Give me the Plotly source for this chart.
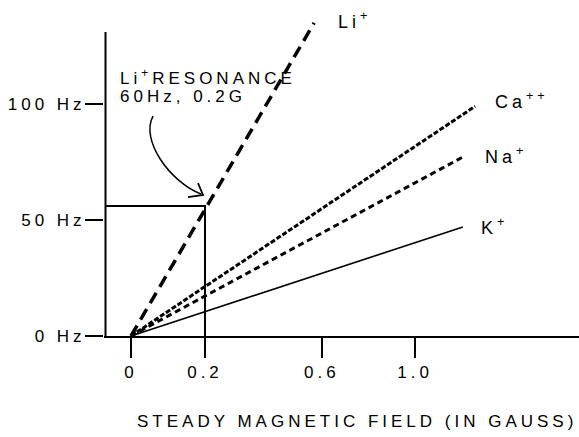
import plotly.graph_objects as go

# ---- data ----
ions = ["Li<sup>+</sup>", "Ca<sup>++</sup>", "Na<sup>+</sup>", "K<sup>+</sup>"]
end_field = [0.495, 0.930, 0.895, 0.897]      # field at the end of each drawn line (axis units)
end_freq = [135, 99, 77, 47]                  # frequency (Hz) at the end of each drawn line
x_tick_pos = [0, 0.2, 0.516, 0.768]
x_tick_text = ["0", "0.2", "0.6", "1.0"]
y_tick_vals = [0, 50, 100]
y_tick_text = ["0 Hz", "50 Hz", "100 Hz"]
res_field = 0.2
res_freq = 56
res_label = ["Li<sup>+</sup>RESONANCE", "60Hz, 0.2G"]
x_title = "STEADY MAGNETIC FIELD (IN GAUSS)"

FONT = "Liberation Sans, Arial, Helvetica, sans-serif"
styles = [
    dict(dash="12px,7px", width=3.5),
    dict(dash="5px,2px", width=3),
    dict(dash="6px,4px", width=3),
    dict(dash="solid", width=1.6),
]
label_pos = [(0.554, 135.8), (0.978, 101.7), (0.951, 77.8), (0.941, 47.0)]

X_LEFT = -0.0689  # position of the drawn vertical axis

fig = go.Figure()
for ion, xe, ye, st in zip(ions, end_field, end_freq, styles):
    fig.add_trace(go.Scatter(
        x=[0, xe], y=[0, ye], mode="lines",
        line=dict(color="black", **st), showlegend=False, hoverinfo="skip"))

# resonance guide lines
fig.add_trace(go.Scatter(
    x=[X_LEFT, res_field, res_field], y=[res_freq, res_freq, 0], mode="lines",
    line=dict(color="black", width=2), showlegend=False, hoverinfo="skip"))

shapes = [
    # vertical axis line
    dict(type="line", xref="x", yref="y", x0=X_LEFT, x1=X_LEFT, y0=-0.5, y1=131,
         line=dict(color="black", width=2)),
    # curved arrow
    dict(type="path", xref="x", yref="y",
         path="M 0.0595,94.8 C 0.0243,84.5 0.1054,66.4 0.1892,61.2",
         line=dict(color="black", width=1.5)),
    dict(type="path", xref="x", yref="y",
         path="M 0.1811,65.9 L 0.1946,60.8 L 0.1541,59.9",
         line=dict(color="black", width=1.8)),
]

annotations = []
for ion, (lx, ly) in zip(ions, label_pos):
    annotations.append(dict(x=lx, y=ly, xref="x", yref="y", text=ion, showarrow=False,
                            xanchor="left", yanchor="middle", align="left",
                            font=dict(family=FONT, size=18, color="black")))
annotations.append(dict(x=-0.0351, y=111.6, xref="x", yref="y", text=res_label[0],
                        showarrow=False, xanchor="left", yanchor="middle", align="left",
                        font=dict(family=FONT, size=17, color="black")))
annotations.append(dict(x=-0.0351, y=103.4, xref="x", yref="y", text=res_label[1],
                        showarrow=False, xanchor="left", yanchor="middle", align="left",
                        font=dict(family=FONT, size=17, color="black")))
annotations.append(dict(x=0.612, y=-0.2545, xref="x", yref="paper", text=x_title,
                        showarrow=False, xanchor="center", yanchor="middle",
                        font=dict(family=FONT, size=17, color="black")))

fig.update_layout(
    width=579, height=437,
    margin=dict(l=104, r=0, t=0, b=101, pad=0),
    paper_bgcolor="white", plot_bgcolor="white",
    shapes=shapes, annotations=annotations,
    xaxis=dict(range=[-0.07297, 1.2108], showgrid=False, zeroline=False,
               showline=True, linecolor="black", linewidth=2,
               ticks="outside", ticklen=20, tickwidth=2, tickcolor="black",
               tickvals=x_tick_pos, ticktext=x_tick_text,
               tickfont=dict(family=FONT, size=17, color="black")),
    yaxis=dict(range=[0, 144.83], showgrid=False, zeroline=False, showline=False,
               ticks="outside", ticklen=18, tickwidth=2, tickcolor="black",
               tickvals=y_tick_vals, ticktext=y_tick_text, ticklabelstandoff=-4,
               tickfont=dict(family=FONT, size=17, color="black")),
)

css = ("var s=document.createElement('style');"
       "s.innerHTML='html, body { margin: 0; padding: 0; } "
       ".annotation-text, .xtick text, .ytick text { letter-spacing: 4px; }';"
       "document.head.appendChild(s);")
fig.write_html("out.html", post_script=css, config={"displayModeBar": False})
